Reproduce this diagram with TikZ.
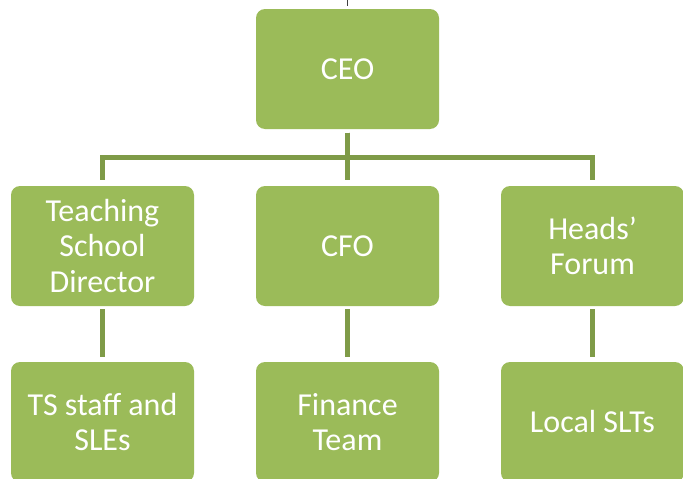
\documentclass[tikz,border=0pt]{standalone}
\usepackage{fontspec}
\setmainfont{Carlito}
\usepackage{tikz}
\usetikzlibrary{trees}
\definecolor{boxgreen}{RGB}{155,187,89}
\definecolor{linegreen}{RGB}{127,155,72}
\tikzstyle{every node}=[anchor=center]
\tikzstyle{unit}=[rectangle,rounded corners=9pt,fill=boxgreen,text=white,
  minimum width=183pt,minimum height=120pt,align=center,inner sep=0pt,
  font=\fontsize{32}{35.5}\selectfont]

\begin{document}
\begin{tikzpicture}[%
  level distance=177pt, sibling distance=245pt,
  edge from parent/.style={draw=linegreen,line width=5pt},
  level 1/.style={edge from parent path={([yshift=-3.5pt]\tikzparentnode.south)
    -- ++(0,-25pt) -| ([yshift=6pt]\tikzchildnode.north)}},
  level 2/.style={level distance=176pt,
    edge from parent path={([yshift=-3pt]\tikzparentnode.south)
    -- ([yshift=5pt]\tikzchildnode.north)}}]
  \useasboundingbox (0,0) rectangle (683pt,-479pt);
  \clip (0,0) rectangle (683pt,-479pt);
  \node [unit] (ceo) at (347.5pt,-69pt) {CEO}
      child { node [unit] (tsd) {Teaching\\School\\Director}
        child { node [unit] (tsstaff) {TS staff and\\SLEs}}
      }
      child { node [unit] (cfo) {CFO}
        child { node [unit] (finance) {Finance\\Team}}
      }
      child { node [unit] (heads) {Heads’\\Forum}
        child { node [unit] (slts) {Local SLTs}}
      };
  \coordinate (top) at (347.5pt,0);
  \draw [black!75,line width=1pt] ([yshift=3pt]ceo.north) -- (top);
\end{tikzpicture}
\end{document}
